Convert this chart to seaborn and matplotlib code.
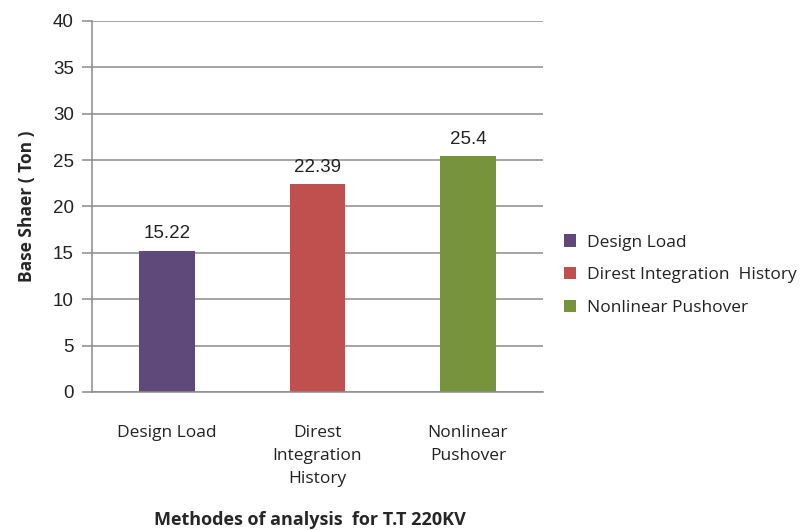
import matplotlib
matplotlib.use("Agg")
import matplotlib.pyplot as plt
import seaborn as sns
import pandas as pd

# Base shear results for each analysis method
methods = ["Design Load", "Direst Integration  History", "Nonlinear Pushover"]
tick_labels = ["Design Load", "Direst\nIntegration\nHistory", "Nonlinear\nPushover"]
base_shear = [15.22, 22.39, 25.4]
value_labels = ["15.22", "22.39", "25.4"]
colors = ["#5F497A", "#C0504D", "#77933C"]
y_ticks = [0, 5, 10, 15, 20, 25, 30, 35, 40]

sns.set_theme(style="white")
plt.rcParams["font.family"] = ["Liberation Sans", "DejaVu Sans"]

df = pd.DataFrame({"method": methods, "shear": base_shear})

fig = plt.figure(figsize=(8.06, 5.30), dpi=100)
ax = fig.add_axes([0.1141, 0.2604, 0.5596, 0.7000])

sns.barplot(data=df, x="method", y="shear", hue="method", palette=colors,
            width=0.37, dodge=False, legend=True, ax=ax, saturation=1,
            linewidth=0)

ax.set_ylim(0, 40)
ax.set_xlim(-0.5, 2.5)
ax.set_yticks(y_ticks)
ax.set_yticklabels([str(t) for t in y_ticks], fontsize=13.5, color="#222222")
ax.yaxis.grid(True, color="#8c8c8c", linewidth=1.1)
ax.set_axisbelow(True)
for side in ["top", "right"]:
    ax.spines[side].set_visible(False)
for side in ["left", "bottom"]:
    ax.spines[side].set_color("#8c8c8c")
    ax.spines[side].set_linewidth(1.1)
ax.tick_params(axis="y", length=7, width=1.1, color="#8c8c8c", pad=6, left=True)
ax.tick_params(axis="x", length=0, pad=24)

ax.set_xticks(range(len(tick_labels)))
ax.set_xticklabels(tick_labels, fontsize=12.5, color="#222222",
                   family=["Open Sans", "DejaVu Sans"], linespacing=1.58, va="top")

for i, (v, lab) in enumerate(zip(base_shear, value_labels)):
    ax.annotate(lab, xy=(i, v), xytext=(0, 6), textcoords="offset points",
                ha="center", va="bottom", fontsize=13.5, color="#222222")

ax.set_ylabel("Base Shaer ( Ton )", fontsize=12.5, fontweight="bold",
              family=["Open Sans", "DejaVu Sans"], labelpad=12)
ax.set_xlabel("Methodes of analysis  for T.T 220KV", fontsize=13, fontweight="bold",
              family=["Open Sans", "DejaVu Sans"])
ax.xaxis.set_label_coords(0.483, -0.345)
ax.xaxis.label.set_va("center")

leg = ax.legend(loc="center left", bbox_to_anchor=(1.012, 0.315), frameon=False,
                handlelength=0.7, handleheight=0.7, handletextpad=0.6,
                labelspacing=0.95, prop={"family": ["Open Sans", "DejaVu Sans"], "size": 12.5})
for t in leg.get_texts():
    t.set_color("#222222")

fig.savefig("out.png", dpi=100, facecolor="white")
